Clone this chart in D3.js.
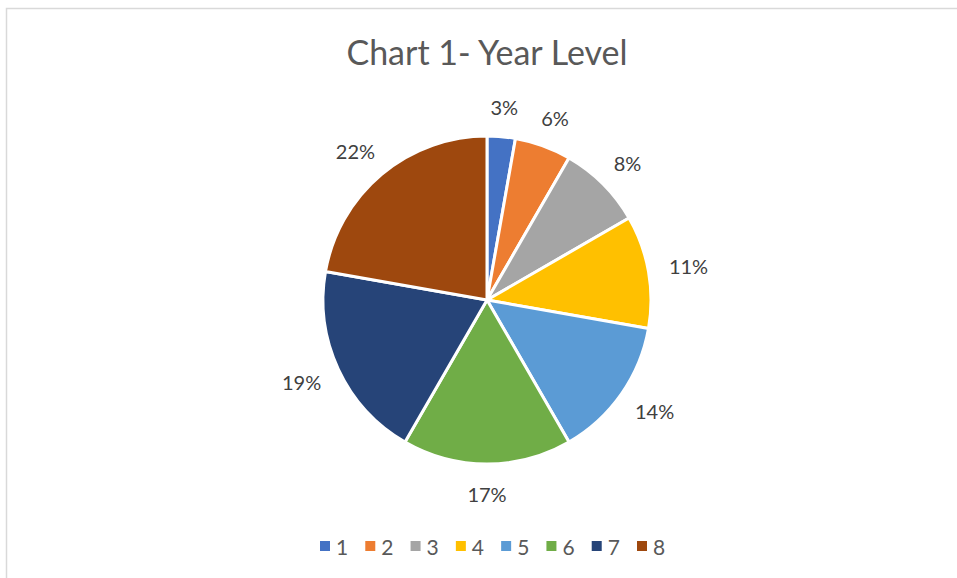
<!DOCTYPE html>
<html>
<head>
<meta charset="utf-8">
<script src="https://cdn.jsdelivr.net/npm/d3@7"></script>
<style>
  body { margin: 0; background: #fff; }
  svg { display: block; font-family: Lato, "Open Sans", sans-serif; }
</style>
</head>
<body>
<svg id="chart"></svg>
<script>
// chart data
const categories = ['1', '2', '3', '4', '5', '6', '7', '8'];
const values = [1, 2, 3, 4, 5, 6, 7, 8];
const colors = ['#4472C4', '#ED7D31', '#A5A5A5', '#FFC000', '#5B9BD5', '#70AD47', '#264478', '#9E480E'];
const title = 'Chart 1- Year Level';

const width = 957, height = 578;
const cx = 487, cy = 300, radius = 164;

const svg = d3.select('#chart')
    .attr('width', width)
    .attr('height', height);

// chart area border
svg.append('rect')
    .attr('x', 6.5)
    .attr('y', 8.5)
    .attr('width', width)
    .attr('height', height)
    .attr('fill', 'none')
    .attr('stroke', '#d9d9d9')
    .attr('stroke-width', 1.5);

svg.append('text')
    .attr('x', cx)
    .attr('y', 65)
    .attr('text-anchor', 'middle')
    .attr('fill', '#595959')
    .style('font-size', '34px')
    .text(title);

const data = categories.map((c, i) => ({cat: c, value: values[i], color: colors[i]}));
const total = d3.sum(values);

const pie = d3.pie()
    .value(d => d.value)
    .sort(null);

const arc = d3.arc()
    .innerRadius(0)
    .outerRadius(radius);

const chart = svg.append('g')
    .attr('transform', `translate(${cx},${cy})`);

const arcs = pie(data);

chart.selectAll('path')
    .data(arcs)
    .join('path')
    .attr('d', arc)
    .attr('fill', d => d.data.color)
    .attr('stroke', '#fff')
    .attr('stroke-width', 3)
    .attr('stroke-linejoin', 'round');

// labels outside the pie
const gap = 21;
chart.selectAll('text.lbl')
    .data(arcs)
    .join('text')
    .attr('class', 'lbl')
    .attr('fill', '#404040')
    .style('font-size', '20px')
    .attr('text-anchor', 'middle')
    .attr('dominant-baseline', 'central')
    .text(d => Math.round(d.data.value / total * 100) + '%')
    .each(function(d) {
        const a = (d.startAngle + d.endAngle) / 2;
        const w = this.getComputedTextLength();
        const h = 18;
        const r = radius + gap;
        const x = Math.sin(a) * r + Math.sin(a) * w / 2;
        const y = -Math.cos(a) * r - Math.cos(a) * h / 2;
        d3.select(this).attr('x', x).attr('y', y);
    });

// legend
const legendX = d3.scalePoint()
    .domain(categories)
    .range([320, 637]);

const legend = svg.append('g')
    .attr('transform', 'translate(0,546)');

const item = legend.selectAll('g')
    .data(data)
    .join('g')
    .attr('transform', d => `translate(${legendX(d.cat)},0)`);

item.append('rect')
    .attr('x', 0)
    .attr('y', -5)
    .attr('width', 10)
    .attr('height', 10)
    .attr('fill', d => d.color);

item.append('text')
    .attr('x', 16)
    .attr('y', 0)
    .attr('dominant-baseline', 'central')
    .attr('fill', '#595959')
    .style('font-size', '21px')
    .text(d => d.cat);
</script>
</body>
</html>
